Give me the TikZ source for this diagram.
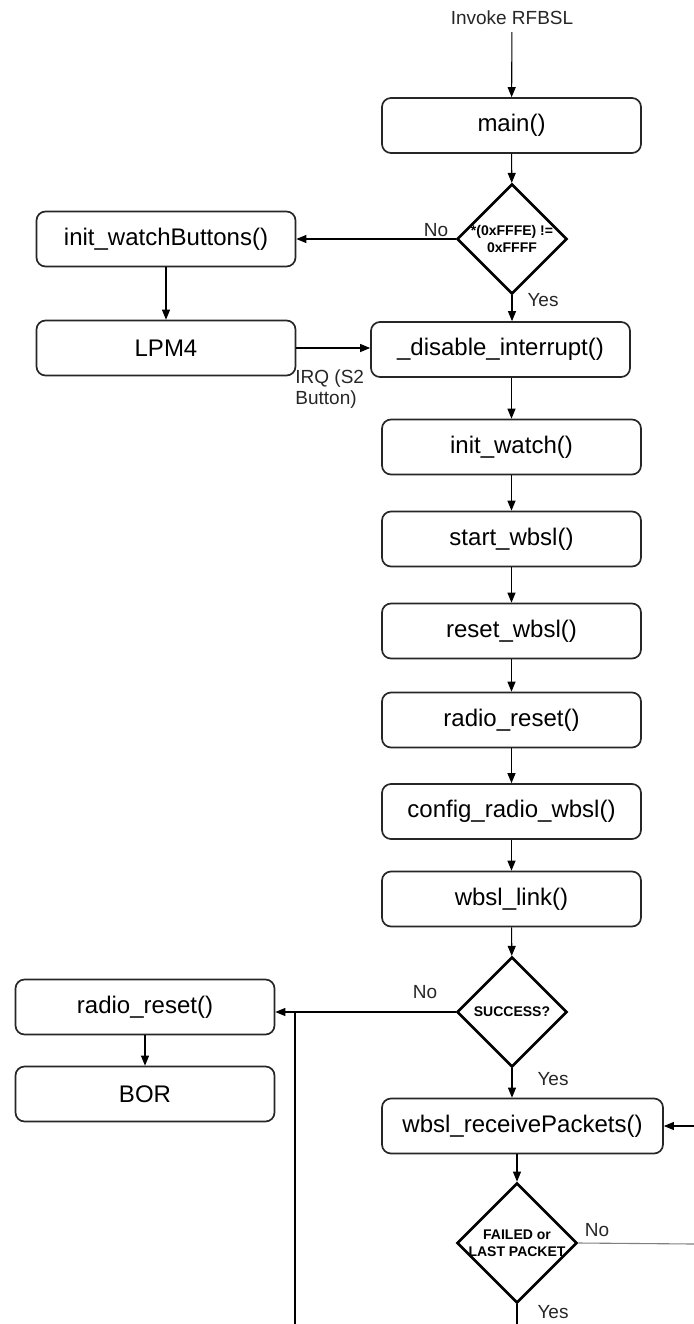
\documentclass[tikz,border=0pt]{standalone}
\usepackage{fontspec}
\setmainfont{Liberation Sans}
\usetikzlibrary{shapes.geometric,arrows.meta}

\tikzset{
  func/.style={draw=black!85, line width=0.85pt, rounded corners=4.5pt,
    minimum width=129.5pt, minimum height=27.5pt, inner sep=0pt,
    font=\fontsize{12}{14}\selectfont},
  decide/.style={draw=black, line width=1.35pt, diamond, minimum width=55pt,
    minimum height=55pt, inner sep=0pt, align=center,
    font=\fontsize{7}{8.5}\selectfont\bfseries},
  lbl/.style={font=\fontsize{9.5}{10.5}\selectfont, text=black!85},
  flow/.style={line width=0.55pt, -{Triangle[length=5pt,width=4pt]}},
  wire/.style={line width=0.55pt},
}

\begin{document}
\begin{tikzpicture}[x=0.5pt,y=-0.5pt]
\useasboundingbox (0,0) rectangle (694,1324);

%--------------------------------------------------- entry
\node[lbl] (invoke) at (512,18) {Invoke RFBSL};
\node[func] (main) at (511.5,125.5) {main()};
\node[decide] (chk) at (512,239) {\makebox[0pt]{*(0xFFFE) !=}\\\makebox[0pt]{0xFFFF}};

%--------------------------------------------------- left branch
\node[func] (btns) at (166,239) {init\_watchButtons()};
\node[func] (lpm) at (166,348) {LPM4};

%--------------------------------------------------- main column
\node[func] (dis) at (500.5,349.5) {\_disable\_interrupt()};
\node[func] (iwatch) at (511.5,447) {init\_watch()};
\node[func] (start) at (511.5,539) {start\_wbsl()};
\node[func] (rwbsl) at (511.5,631) {reset\_wbsl()};
\node[func] (radio) at (511.5,720) {radio\_reset()};
\node[func] (cfg) at (511.5,811.5) {config\_radio\_wbsl()};
\node[func] (link) at (511.5,899) {wbsl\_link()};
\node[decide] (ok) at (512,1012) {SUCCESS?};

%--------------------------------------------------- failure branch
\node[func] (rst) at (145,1007) {radio\_reset()};
\node[func] (bor) at (145,1094) {BOR};

%--------------------------------------------------- receive loop
\node[func,minimum width=140.5pt] (recv) at (522.5,1126) {wbsl\_receivePackets()};
\node[decide,minimum width=60pt,minimum height=60pt] (done) at (517,1243) {\makebox[0pt]{FAILED or}\\\makebox[0pt]{LAST PACKET}};

%--------------------------------------------------- labels
\node[lbl] (no1) at (436,230) {No};
\node[lbl] (yes1) at (543,300) {Yes};
\node[lbl,align=left,anchor=north west,inner sep=0pt] (irq) at (295,369) {IRQ (S2\\Button)};
\node[lbl] (no2) at (425,992) {No};
\node[lbl] (yes2) at (553,1079) {Yes};
\node[lbl] (no3) at (597,1230) {No};
\node[lbl] (yes3) at (553,1312) {Yes};

%--------------------------------------------------- connectors
\draw[flow] (invoke) -- (main);
\draw[flow] (main) -- (chk);
\draw[flow] (chk.west) -- (btns.east);
\draw[flow] (btns) -- (lpm);
\draw[flow] (lpm.east) -- (lpm.east -| dis.west);
\draw[flow] (chk.south) -- (chk.south |- dis.north);
\draw[flow] (iwatch.north |- dis.south) -- (iwatch.north);
\draw[flow] (iwatch) -- (start);
\draw[flow] (start) -- (rwbsl);
\draw[flow] (rwbsl) -- (radio);
\draw[flow] (radio) -- (cfg);
\draw[flow] (cfg) -- (link);
\draw[flow] (link) -- (ok);
\draw[flow] (ok.west) -- (ok.west -| rst.east);
\draw[flow] (rst) -- (bor);
\coordinate (back) at (295,1324);
\draw[wire] (back) -- (back |- ok.west);
\draw[flow] (ok.south) -- (ok.south |- recv.north);
\coordinate (again) at (694,1126);
\draw[flow] (again) -- (recv.east);
\draw[flow] (done.north |- recv.south) -- (done.north);
\coordinate (nextpkt) at (694,1244);
\draw[wire,black!50] (done.east) -- (nextpkt);
\coordinate (exit) at (517,1324);
\draw[wire] (done.south) -- (exit);
\end{tikzpicture}
\end{document}
